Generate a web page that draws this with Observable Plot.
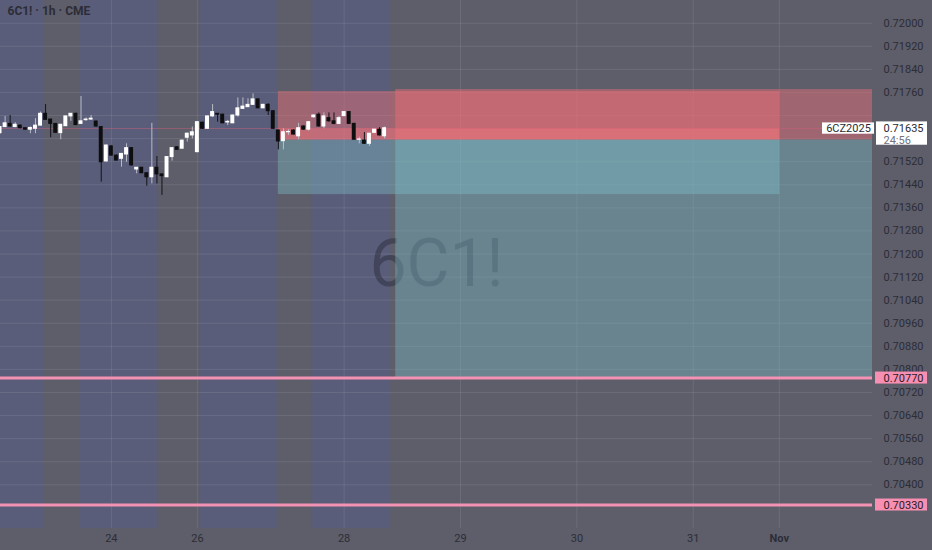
<!DOCTYPE html>
<html><head><meta charset="utf-8">
<script src="https://cdn.jsdelivr.net/npm/d3@7"></script>
<script src="https://cdn.jsdelivr.net/npm/@observablehq/plot@0.6"></script>
<style>
html,body{margin:0;padding:0;background:#5d5e6a;overflow:hidden;}
</style></head><body><div id="chart"></div>
<script>
// ---- data ----
const opens  = [0.71619,0.71640,0.71651,0.71640,0.71645,0.71636,0.71631,0.71634,0.71645,0.71686,
  0.71666,0.71651,0.71619,0.71643,0.71677,0.71686,0.71651,0.71664,0.71666,0.71659,
  0.71640,0.71521,0.71573,0.71541,0.71530,0.71545,0.71567,0.71493,0.71499,0.71480,
  0.71466,0.71499,0.71476,0.71466,0.71536,0.71570,0.71565,0.71603,0.71611,0.71553,
  0.71655,0.71634,0.71677,0.71686,0.71683,0.71656,0.71653,0.71680,0.71703,0.71709,
  0.71717,0.71736,0.71705,0.71717,0.71695,0.71628,0.71591,0.71622,0.71628,0.71608,
  0.71642,0.71631,0.71674,0.71683,0.71642,0.71671,0.71660,0.71651,0.71678,0.71692,
  0.71651,0.71596,0.71593,0.71582,0.71620,0.71631,0.71608];
const highs  = [0.71642,0.71677,0.71680,0.71655,0.71647,0.71638,0.71640,0.71669,0.71692,0.71718,
  0.71667,0.71652,0.71648,0.71678,0.71687,0.71688,0.71746,0.71672,0.71680,0.71661,
  0.71642,0.71578,0.71575,0.71543,0.71548,0.71582,0.71569,0.71499,0.71500,0.71481,
  0.71653,0.71538,0.71477,0.71537,0.71568,0.71572,0.71595,0.71619,0.71640,0.71659,
  0.71657,0.71678,0.71718,0.71687,0.71684,0.71663,0.71682,0.71741,0.71741,0.71738,
  0.71755,0.71737,0.71719,0.71721,0.71697,0.71630,0.71634,0.71631,0.71630,0.71653,
  0.71644,0.71659,0.71683,0.71689,0.71689,0.71689,0.71689,0.71677,0.71693,0.71693,
  0.71653,0.71605,0.71621,0.71618,0.71632,0.71638,0.71640];
const lows   = [0.71615,0.71638,0.71640,0.71638,0.71634,0.71628,0.71617,0.71617,0.71644,0.71664,
  0.71603,0.71618,0.71596,0.71642,0.71660,0.71645,0.71650,0.71660,0.71664,0.71640,
  0.71449,0.71518,0.71540,0.71522,0.71501,0.71518,0.71505,0.71478,0.71479,0.71435,
  0.71443,0.71443,0.71403,0.71465,0.71522,0.71560,0.71563,0.71588,0.71599,0.71551,
  0.71632,0.71632,0.71674,0.71657,0.71652,0.71645,0.71652,0.71674,0.71702,0.71708,
  0.71715,0.71704,0.71704,0.71680,0.71632,0.71561,0.71561,0.71611,0.71613,0.71596,
  0.71629,0.71626,0.71671,0.71640,0.71634,0.71657,0.71648,0.71648,0.71676,0.71650,
  0.71594,0.71582,0.71580,0.71573,0.71619,0.71609,0.71599];
const closes = [0.71640,0.71653,0.71642,0.71648,0.71636,0.71631,0.71637,0.71645,0.71686,0.71665,
  0.71651,0.71620,0.71648,0.71677,0.71686,0.71647,0.71660,0.71666,0.71669,0.71642,
  0.71518,0.71576,0.71541,0.71524,0.71547,0.71567,0.71507,0.71499,0.71480,0.71466,
  0.71499,0.71476,0.71470,0.71536,0.71567,0.71561,0.71593,0.71617,0.71622,0.71657,
  0.71634,0.71677,0.71692,0.71683,0.71653,0.71658,0.71680,0.71705,0.71711,0.71717,
  0.71736,0.71705,0.71717,0.71695,0.71634,0.71590,0.71622,0.71623,0.71614,0.71636,
  0.71631,0.71657,0.71680,0.71642,0.71677,0.71660,0.71651,0.71671,0.71692,0.71651,
  0.71596,0.71597,0.71582,0.71617,0.71631,0.71611,0.71636];
const firstBar = -68;            // bar index of first candle (0 = "28")

const dateLabels = ["24","26","28","29","30","31","Nov"];
const dateBars   = [-46, -29, 0, 23, 46, 69, 86];

const priceTicks = [0.70400,0.70480,0.70560,0.70640,0.70720,0.70800,0.70880,0.70960,0.71040,
  0.71120,0.71200,0.71280,0.71360,0.71440,0.71520,0.71600,0.71680,0.71760,0.71840,0.71920,0.72000];

const sessionStart = [-68.5, -52.1, -28.4, -6.3];
const sessionEnd   = [-59.4, -36.7, -13.2, 9.2];

const positionStart = [-13, 10.2];
const positionEnd   = [86.1, null];      // null: runs to the right edge
const stopLevel     = [0.71763, 0.71770];
const entryLevel    = [0.71595, 0.71595];
const targetLevel   = [0.71406, 0.70770];

const alertLevels = [0.70770, 0.70330];
const currentPrice = 0.71635;
const symbolName = "6C1!";
const contractName = "6CZ2025";
const countdown = "24:56";
const titleText = "6C1! · 1h · CME";

// ---- build ----
const xDomain = [-67.91, 104.42];
const yDomain = [0.702486, 0.720787];
const txt = "#2c2d37";

const candles = opens.map((o, i) => ({
  t: firstBar + i, open: o, high: highs[i], low: lows[i], close: closes[i], up: closes[i] >= o
}));
const sessions = sessionStart.map((s, i) => ({x1: s, x2: sessionEnd[i]}));
const positions = positionStart.map((s, i) => ({
  x1: s, x2: positionEnd[i] ?? xDomain[1], stop: stopLevel[i], entry: entryLevel[i], target: targetLevel[i]
}));
const openTrade = [{x1: positions[0].x1, x2: positions[0].x2, a: entryLevel[0], b: currentPrice}];
const fmt = d => d.toFixed(5);
// tick labels hidden behind the current-price tag are not drawn
const labelTicks = priceTicks.filter(v => Math.abs(v - currentPrice) > 0.0005);

const chart = Plot.plot({
  width: 932, height: 550,
  marginLeft: 0, marginRight: 60, marginTop: 0, marginBottom: 22,
  style: {background: "#5d5e6a", fontFamily: "Roboto, sans-serif", overflow: "visible"},
  x: {domain: xDomain, axis: null},
  y: {domain: yDomain, axis: null},
  marks: [
    Plot.rect(sessions, {x1: "x1", x2: "x2", fill: "#5a5d79"}),
    Plot.gridY({ticks: priceTicks, stroke: "#ffffff", strokeOpacity: 0.09}),
    Plot.gridX({ticks: dateBars, stroke: "#ffffff", strokeOpacity: 0.09}),
    Plot.text([symbolName], {frameAnchor: "middle", fontSize: 66, fill: "#1c1e2c", fillOpacity: 0.38}),
    // position tools
    Plot.rect(positions, {x1: "x1", x2: "x2", y1: "entry", y2: "stop", fill: "rgb(240,110,120)", fillOpacity: 0.45}),
    Plot.rect(positions, {x1: "x1", x2: "x2", y1: "entry", y2: "target", fill: "rgb(125,190,200)", fillOpacity: 0.4}),
    Plot.rect(openTrade, {x1: "x1", x2: "x2", y1: "a", y2: "b", fill: "rgb(250,120,125)", fillOpacity: 0.4}),
    Plot.ruleY([currentPrice], {stroke: "#d0607a", strokeOpacity: 0.45, strokeWidth: 1}),
    // alert lines
    Plot.ruleY(alertLevels, {stroke: "#f392b2", strokeWidth: 3}),
    // candles
    Plot.ruleX(candles, {x: "t", y1: "low", y2: "high", stroke: d => d.up ? "#b9bcc6" : "#141418", strokeWidth: 1}),
    Plot.rect(candles, {x1: d => d.t - 0.39, x2: d => d.t + 0.39, y1: "open", y2: "close",
      fill: d => d.up ? "#ffffff" : "#0e0e10", insetTop: -0.5, insetBottom: -0.5}),
    // axes
    Plot.axisY({anchor: "right", ticks: labelTicks, tickSize: 0, tickPadding: 11, tickFormat: fmt,
      fontSize: 11, fill: txt, label: null}),
    Plot.axisX({ticks: dateBars.filter((d, i) => dateLabels[i] !== "Nov"), tickSize: 0, tickPadding: 6,
      tickFormat: d => dateLabels[dateBars.indexOf(d)], fontSize: 11, fill: txt, label: null}),
    Plot.axisX({ticks: dateBars.filter((d, i) => dateLabels[i] === "Nov"), tickSize: 0, tickPadding: 6,
      tickFormat: d => dateLabels[dateBars.indexOf(d)], fontSize: 11, fontWeight: "bold", fill: txt, label: null}),
    // alert labels
    Plot.rect(alertLevels, {x1: xDomain[1], x2: xDomain[1], y1: d => d, y2: d => d,
      insetLeft: 3, insetRight: -55, insetTop: -6, insetBottom: -6, fill: "#f78fb3"}),
    Plot.text(alertLevels, {x: xDomain[1], y: d => d, text: fmt, dx: 11, textAnchor: "start",
      fontSize: 11, fill: "#2a1c24"}),
    // current price labels
    Plot.rect([currentPrice], {x1: xDomain[1], x2: xDomain[1], y1: d => d, y2: d => d,
      insetLeft: 4, insetRight: -55, insetTop: -6.6, insetBottom: -16.7, fill: "#ffffff"}),
    Plot.text([currentPrice], {x: xDomain[1], y: d => d, text: fmt, dx: 11, textAnchor: "start",
      fontSize: 11, fill: "#2a2b33"}),
    Plot.text([currentPrice], {x: xDomain[1], y: d => d, text: () => countdown, dx: 11, dy: 11.5, textAnchor: "start",
      fontSize: 11, fill: "#6f7280"}),
    Plot.rect([currentPrice], {x1: xDomain[1], x2: xDomain[1], y1: d => d, y2: d => d,
      insetLeft: -50, insetRight: -2, insetTop: -5.6, insetBottom: -5.7, fill: "#ffffff"}),
    Plot.text([currentPrice], {x: xDomain[1], y: d => d, text: () => contractName, dx: -24, textAnchor: "middle",
      fontSize: 11, fill: "#2a2b33"}),
    // title
    Plot.text([titleText], {frameAnchor: "top-left", dx: 7, dy: 6, textAnchor: "start", lineAnchor: "top",
      fontSize: 12, fontWeight: 700, fill: txt})
  ]
});
document.getElementById("chart").appendChild(chart);
</script>
</body></html>
